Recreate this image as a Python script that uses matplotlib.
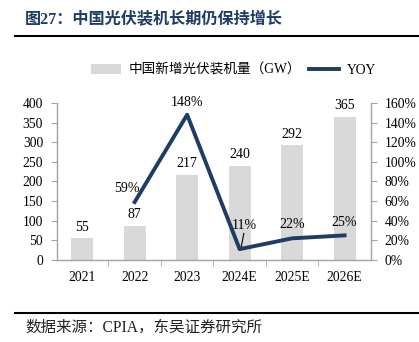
import numpy as np
import matplotlib
matplotlib.use("Agg")
import matplotlib.pyplot as plt
from matplotlib.patches import Patch
from matplotlib.lines import Line2D

years = ["2021", "2022", "2023", "2024E", "2025E", "2026E"]
installs = [55, 87, 217, 240, 292, 365]
yoy_years = [1, 2, 3, 4, 5]
yoy = [59, 148, 11, 22, 25]
yoy_labels = ["59%", "148%", "11%", "22%", "25%"]

plt.rcParams['font.family'] = ['Liberation Serif', 'Noto Sans CJK SC', 'DejaVu Sans']

navy = "#1f3d64"
bar_c = "#d9d9d9"
axis_c = "#a6a6a6"

fig = plt.figure(figsize=(4.19, 3.42), dpi=100)
ax = fig.add_axes([0.136, 0.240, 0.749, 0.459])
ax2 = ax.twinx()

x = np.arange(len(years))
ax.bar(x, installs, width=0.42, color=bar_c, zorder=1)
for xi, v in zip(x, installs):
    ax.text(xi, v + 12, str(v), ha="center", va="bottom", fontsize=10)

ax.set_xlim(-0.48, 5.5)
ax.set_ylim(0, 400)
ax.set_yticks(np.arange(0, 401, 50))
ax.set_xticks(x)
ax.set_xticklabels(years, fontsize=9.8)
ax.set_xticks(np.arange(0.5, 5.0, 1), minor=True)
ax.tick_params(axis="x", which="major", length=0, pad=8)
ax.tick_params(axis="x", which="minor", length=4, color=axis_c, direction="out")
ax.tick_params(axis="y", labelsize=9.8, length=4, color=axis_c, pad=6)

ax2.plot(yoy_years, yoy, color=navy, lw=2.8, zorder=3)
ax2.set_ylim(0, 160)
ax2.set_yticks(np.arange(0, 161, 20))
ax2.set_yticklabels([f"{v}%" for v in range(0, 161, 20)])
ax2.tick_params(axis="y", labelsize=9.8, length=4, color=axis_c, pad=6)

# line labels
ax2.text(1 - 0.15, 59 + 7, yoy_labels[0], ha="center", va="bottom", fontsize=10)
ax2.text(2, 148 + 6, yoy_labels[1], ha="center", va="bottom", fontsize=10)
ax2.text(3.08, 28, yoy_labels[2], ha="center", va="bottom", fontsize=10)
ax2.plot([3.03, 3.08], [13, 27], color="black", lw=0.8)
ax2.text(4, 22 + 7, yoy_labels[3], ha="center", va="bottom", fontsize=10)
ax2.text(5, 25 + 7, yoy_labels[4], ha="center", va="bottom", fontsize=10)

for a in (ax, ax2):
    a.spines["top"].set_visible(False)
    for s in ("left", "right", "bottom"):
        a.spines[s].set_color(axis_c)
        a.spines[s].set_linewidth(0.9)

handles = [Patch(facecolor=bar_c, edgecolor="none"),
           Line2D([0], [0], color=navy, lw=2.8)]
fig.legend(handles, ["中国新增光伏装机量（GW）", "YOY"], loc="center",
           bbox_to_anchor=(0.557, 0.795), ncol=2, frameon=False, fontsize=9.8,
           handlelength=2.2, columnspacing=0.6, handletextpad=0.55)

# title, rules, source
fig.text(0.06, 0.94, "图27：中国光伏装机长期仍保持增长", fontsize=11.6, fontweight="bold",
         color=navy, va="center", ha="left")
fig.add_artist(Line2D([0.036, 1.0], [0.895, 0.895], color="black", lw=1.5))
fig.add_artist(Line2D([0.036, 1.0], [0.085, 0.085], color="black", lw=1.5))
fig.text(0.06, 0.043, "数据来源：CPIA，东吴证券研究所", fontsize=11.2, color="#222222",
         va="center", ha="left")

fig.savefig("out.png", dpi=100)
